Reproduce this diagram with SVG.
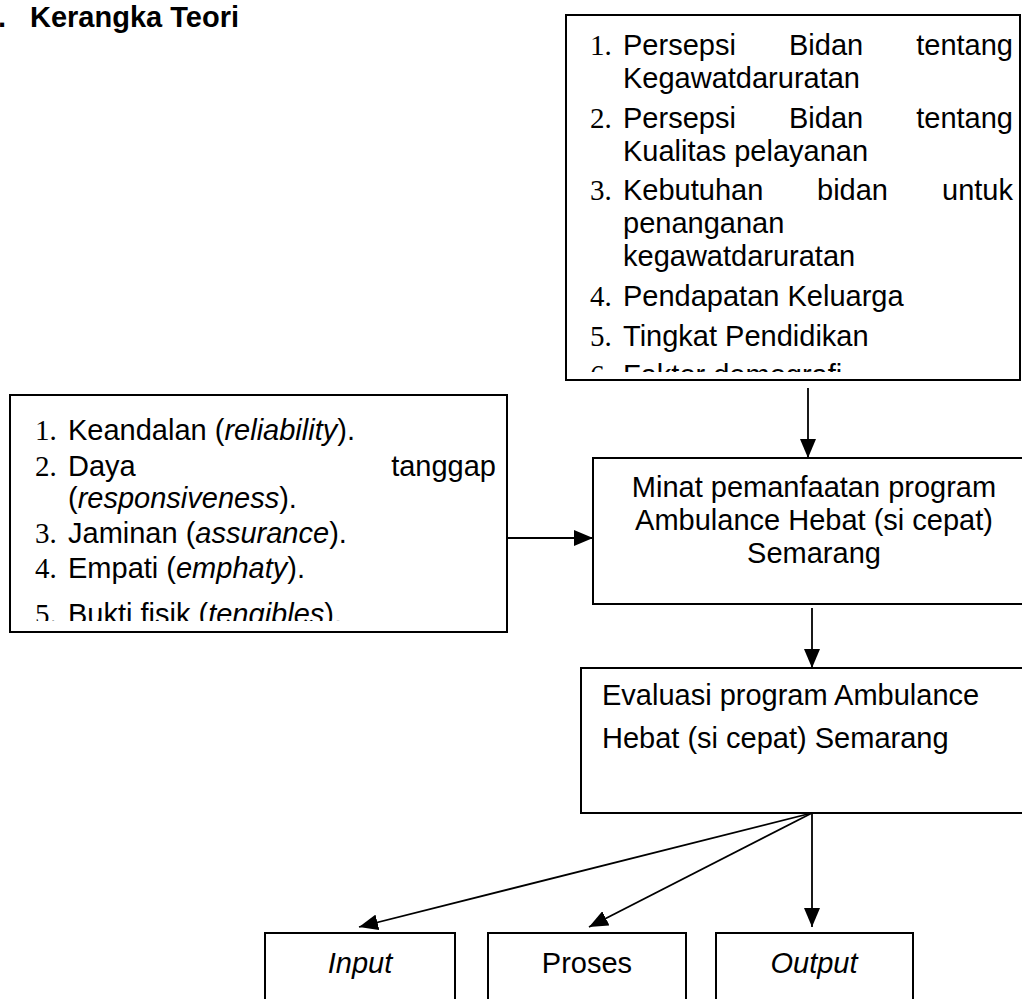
<svg xmlns="http://www.w3.org/2000/svg" width="1022" height="999" viewBox="0 0 1022 999">
<defs>
<style>
.box{fill:#fff;stroke:#000;stroke-width:2}
.t{font-family:"Liberation Sans",Arial,sans-serif;font-size:29px;fill:#000}
.b{font-weight:bold}
.n{font-family:"Liberation Serif","Times New Roman",serif;font-size:29px;fill:#000}
.i{font-style:italic}
.c{stroke:#000;stroke-width:1.8;fill:none}
</style>
<marker id="ah" markerUnits="userSpaceOnUse" markerWidth="19" markerHeight="16" refX="19" refY="8" orient="auto" viewBox="0 0 19 16"><path d="M0,0 L19,8 L0,16 z" fill="#000"/></marker>
<clipPath id="clipTop"><rect x="566" y="15" width="456" height="357"/></clipPath>
<clipPath id="clipLeft"><rect x="10" y="395" width="497" height="226"/></clipPath>
</defs>
<rect width="1022" height="999" fill="#fff"/>
<g id="title">
<text class="t b" x="-2" y="27">.</text>
<text class="t b" x="30" y="27">Kerangka Teori</text>
</g>
<g id="connectors">
<line class="c" x1="808" y1="388" x2="808" y2="458" marker-end="url(#ah)"/>
<line class="c" x1="507" y1="538" x2="593" y2="538" marker-end="url(#ah)"/>
<line class="c" x1="812" y1="608" x2="812" y2="668" marker-end="url(#ah)"/>
<line class="c" x1="812" y1="813" x2="359" y2="927" marker-end="url(#ah)"/>
<line class="c" x1="812" y1="813" x2="589" y2="927" marker-end="url(#ah)"/>
<line class="c" x1="812" y1="813" x2="812" y2="927" marker-end="url(#ah)"/>
</g>
<g id="faktor">
<rect class="box" x="566" y="15" width="454" height="365"/>
<g clip-path="url(#clipTop)">
<text class="n" x="590" y="55">1.</text>
<text class="t" x="623" y="55">Persepsi</text>
<text class="t" x="789" y="55">Bidan</text>
<text class="t" x="1013" y="55" text-anchor="end">tentang</text>
<text class="t" x="623" y="88">Kegawatdaruratan</text>
<text class="n" x="590" y="128">2.</text>
<text class="t" x="623" y="128">Persepsi</text>
<text class="t" x="789" y="128">Bidan</text>
<text class="t" x="1013" y="128" text-anchor="end">tentang</text>
<text class="t" x="623" y="161">Kualitas pelayanan</text>
<text class="n" x="590" y="200">3.</text>
<text class="t" x="623" y="200">Kebutuhan</text>
<text class="t" x="817" y="200">bidan</text>
<text class="t" x="1013" y="200" text-anchor="end">untuk</text>
<text class="t" x="623" y="233">penanganan</text>
<text class="t" x="623" y="266">kegawatdaruratan</text>
<text class="n" x="590" y="306">4.</text>
<text class="t" x="623" y="306">Pendapatan Keluarga</text>
<text class="n" x="590" y="346">5.</text>
<text class="t" x="623" y="346">Tingkat Pendidikan</text>
<text class="n" x="590" y="385">6.</text>
<text class="t" x="623" y="385">Faktor demografi</text>
</g>
</g>
<g id="servqual">
<rect class="box" x="10" y="395" width="497" height="237"/>
<g clip-path="url(#clipLeft)">
<text class="n" x="35" y="440">1.</text>
<text class="t" x="68" y="440">Keandalan (<tspan class="i">reliability</tspan>).</text>
<text class="n" x="35" y="476">2.</text>
<text class="t" x="68" y="476">Daya</text>
<text class="t" x="496" y="476" text-anchor="end">tanggap</text>
<text class="t" x="68" y="508">(<tspan class="i">responsiveness</tspan>).</text>
<text class="n" x="35" y="543">3.</text>
<text class="t" x="68" y="543">Jaminan (<tspan class="i">assurance</tspan>).</text>
<text class="n" x="35" y="578">4.</text>
<text class="t" x="68" y="578">Empati (<tspan class="i">emphaty</tspan>).</text>
<text class="n" x="35" y="624">5.</text>
<text class="t" x="68" y="624">Bukti fisik (<tspan class="i">tengibles</tspan>).</text>
</g>
</g>
<g id="minat">
<rect class="box" x="593" y="458" width="440" height="146"/>
<text class="t" x="814" y="497" text-anchor="middle">Minat pemanfaatan program</text>
<text class="t" x="814" y="530" text-anchor="middle">Ambulance Hebat (si cepat)</text>
<text class="t" x="814" y="563" text-anchor="middle">Semarang</text>
</g>
<g id="evaluasi">
<rect class="box" x="581" y="668" width="452" height="145"/>
<text class="t" x="602" y="705">Evaluasi program Ambulance</text>
<text class="t" x="602" y="748">Hebat (si cepat) Semarang</text>
</g>
<g id="input">
<rect class="box" x="265" y="933" width="190" height="80"/>
<text class="t i" x="360" y="973" text-anchor="middle">Input</text>
</g>
<g id="proses">
<rect class="box" x="488" y="933" width="198" height="80"/>
<text class="t" x="587" y="973" text-anchor="middle">Proses</text>
</g>
<g id="output">
<rect class="box" x="716" y="933" width="197" height="80"/>
<text class="t i" x="814" y="973" text-anchor="middle">Output</text>
</g>
</svg>
